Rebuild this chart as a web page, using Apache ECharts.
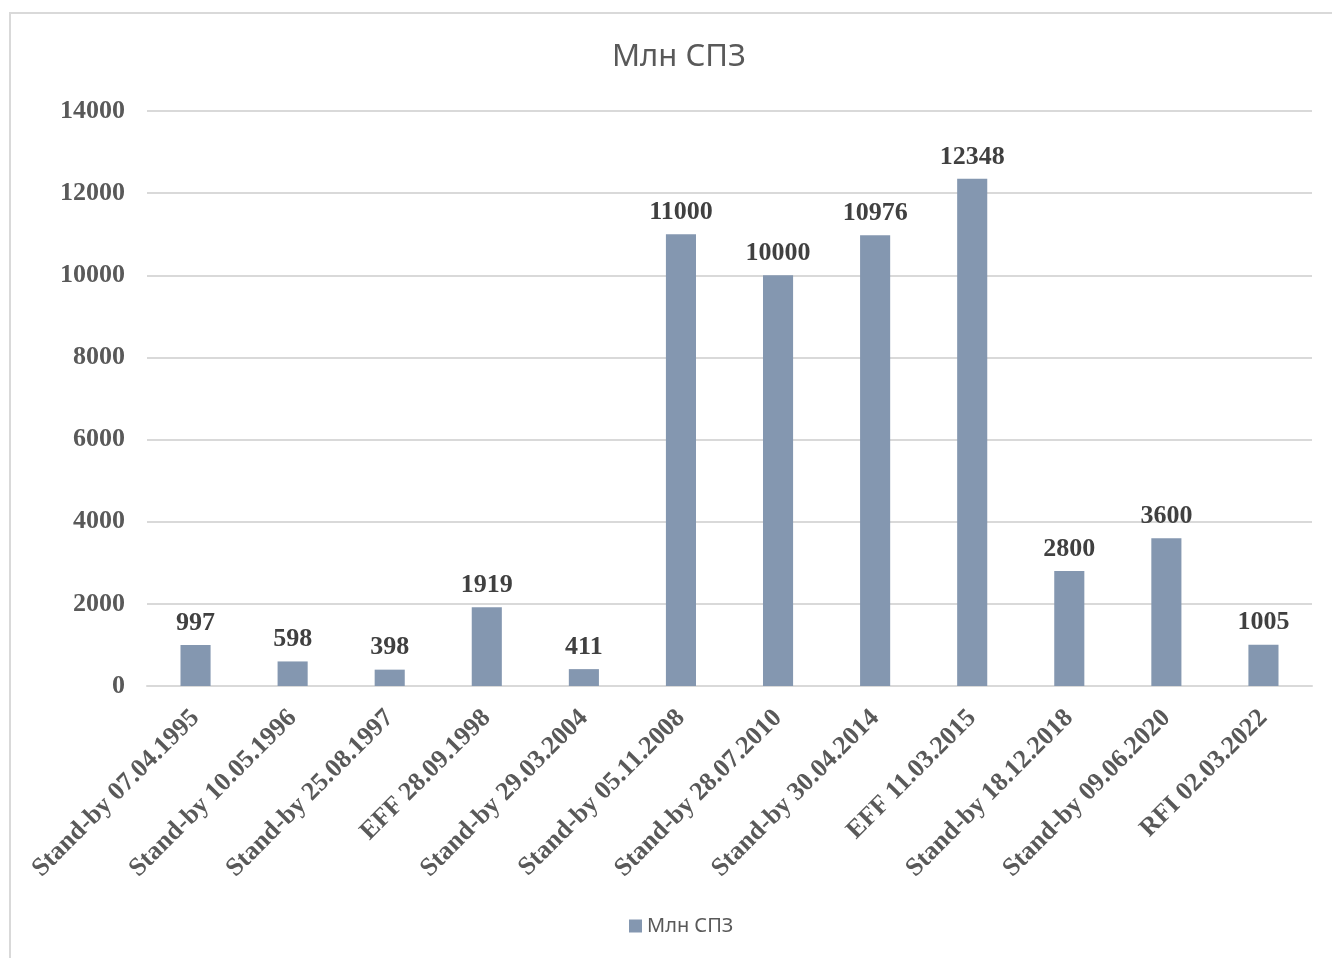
<!DOCTYPE html>
<html>
<head>
<meta charset="utf-8">
<script src="https://cdn.jsdelivr.net/npm/echarts@6/dist/echarts.min.js"></script>
<style>
  html, body { margin: 0; padding: 0; background: #fff; }
  #chart { width: 1332px; height: 958px; }
  #frame {
    position: absolute; left: 9px; top: 12px; right: 0; bottom: 0;
    border-left: 2px solid #d9d9d9; border-top: 2px solid #d9d9d9;
    pointer-events: none;
  }
</style>
</head>
<body>
<div id="chart"></div>
<div id="frame"></div>
<script>
const categories = [
  'Stand-by 07.04.1995', 'Stand-by 10.05.1996', 'Stand-by 25.08.1997', 'EFF 28.09.1998',
  'Stand-by 29.03.2004', 'Stand-by 05.11.2008', 'Stand-by 28.07.2010', 'Stand-by 30.04.2014',
  'EFF 11.03.2015', 'Stand-by 18.12.2018', 'Stand-by 09.06.2020', 'RFI 02.03.2022'
]
const values = [997, 598, 398, 1919, 411, 11000, 10000, 10976, 12348, 2800, 3600, 1005]
const seriesName = 'Млн СПЗ'

const serif = '"Liberation Serif", "DejaVu Serif", serif'
const sans = '"Noto Sans", "Open Sans", sans-serif'

const chart = echarts.init(document.getElementById('chart'))
chart.setOption({
  animation: false,
  title: {
    text: seriesName,
    left: 607,
    top: 37,
    textStyle: { color: '#595959', fontSize: 31, fontWeight: 'normal', fontFamily: sans },
  },
  legend: {
    bottom: 17,
    left: 624,
    data: [seriesName],
    icon: 'rect',
    itemWidth: 13,
    itemHeight: 13,
    textStyle: { color: '#595959', fontSize: 20, fontFamily: sans },
  },
  grid: { left: 147, right: 20, top: 111, bottom: 272 },
  xAxis: {
    type: 'category',
    data: categories,
    axisLine: { lineStyle: { color: '#d9d9d9', width: 2 } },
    axisTick: { show: false },
    axisLabel: {
      rotate: 45,
      interval: 0,
      margin: 28,
      color: '#595959',
      fontSize: 26,
      fontWeight: 'bold',
      fontFamily: serif,
    },
  },
  yAxis: {
    type: 'value',
    min: 0,
    max: 14000,
    interval: 2000,
    axisLine: { show: false },
    axisTick: { show: false },
    splitLine: { lineStyle: { color: '#d9d9d9', width: 2 } },
    axisLabel: {
      formatter: v => String(v),
      color: '#595959',
      fontSize: 26,
      fontWeight: 'bold',
      fontFamily: serif,
      margin: 22,
    },
  },
  series: [{
    name: seriesName,
    type: 'bar',
    data: values,
    barWidth: '31%',
    itemStyle: { color: '#8497b0' },
    label: {
      show: true,
      position: 'top',
      distance: 9,
      color: '#404040',
      fontSize: 26,
      fontWeight: 'bold',
      fontFamily: serif,
    },
  }],
})
</script>
</body>
</html>
